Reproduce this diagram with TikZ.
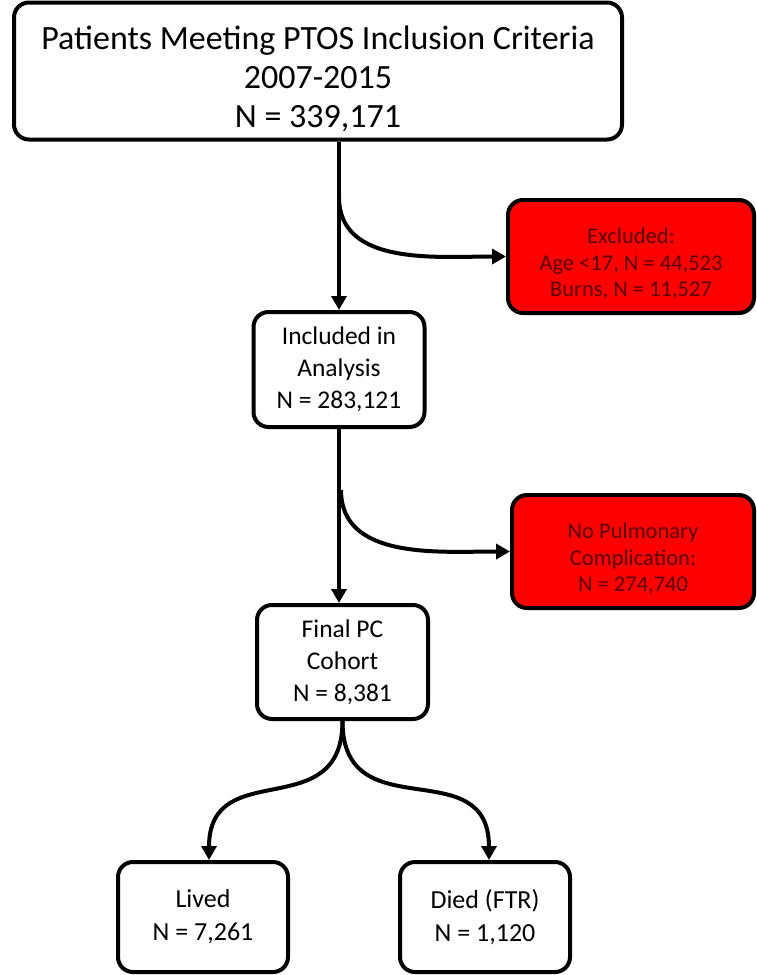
\documentclass[tikz,border=0pt]{standalone}
\usepackage{fontspec}
\setmainfont{Carlito}
\usepackage{xcolor}
\usetikzlibrary{arrows.meta}
\definecolor{ink}{HTML}{000000}
\definecolor{exred}{HTML}{FF0000}
\definecolor{extext}{HTML}{5A0000}
\tikzset{
  box/.style={draw=ink, line width=4pt, rounded corners=15pt, fill=white, align=center, inner sep=0pt},
  exbox/.style={box, fill=exred, text=extext},
  arr/.style={draw=ink, line width=4pt, -{Triangle[length=14pt,width=15pt]}},
  big/.style={font=\fontsize{34}{39}\selectfont},
  mid/.style={font=\fontsize{25.5}{32}\selectfont},
  low/.style={font=\fontsize{26}{33}\selectfont},
  small/.style={font=\fontsize{22.5}{26.5}\selectfont},
}
\begin{document}
\begin{tikzpicture}[x=1pt,y=-1pt]
  \useasboundingbox (0,0) rectangle (756,975);

  \node[box,big,minimum width=608pt,minimum height=137pt] (ptos) at (318,71)
    {\rule{0pt}{40pt}Patients Meeting PTOS Inclusion Criteria\\2007-2015\\N = 339,171};
  \node[box,mid,minimum width=171pt,minimum height=115pt] (incl) at (339,369.5)
    {Included in\\Analysis\\N = 283,121};
  \node[box,mid,minimum width=171pt,minimum height=114pt] (final) at (342.5,662)
    {Final PC\\Cohort\\N = 8,381};
  \node[box,low,minimum width=170pt,minimum height=110pt] (lived) at (203,917)
    {Lived\\N = 7,261};
  \node[box,low,minimum width=170pt,minimum height=110pt] (died) at (485,917)
    {Died (FTR)\\N = 1,120};

  \node[exbox,small,minimum width=246pt,minimum height=113pt] (excl) at (631,256.5)
    {\rule{0pt}{30pt}Excluded:\\Age <17, N = 44,523\\Burns, N = 11,527};
  \node[exbox,small,minimum width=242pt,minimum height=113pt] (nopc) at (633,551.5)
    {\rule{0pt}{30pt}No Pulmonary\\Complication:\\N = 274,740};

  \coordinate (split1) at (339,197);
  \coordinate (split2) at (341,490);

  \draw[arr] (incl.north |- ptos.south) -- (incl.north);
  \draw[arr] (split1) to[out=-90,in=180] (excl.west);
  \draw[arr] (incl.south) -- (incl.south |- final.north);
  \draw[arr] (split2) to[out=-90,in=180] (nopc.west);
  \draw[arr] (final.south) to[out=-90,in=90,looseness=1.4] ([xshift=6pt]lived.north);
  \draw[arr] (final.south) to[out=-90,in=90,looseness=1.4] ([xshift=4pt]died.north);
\end{tikzpicture}
\end{document}
